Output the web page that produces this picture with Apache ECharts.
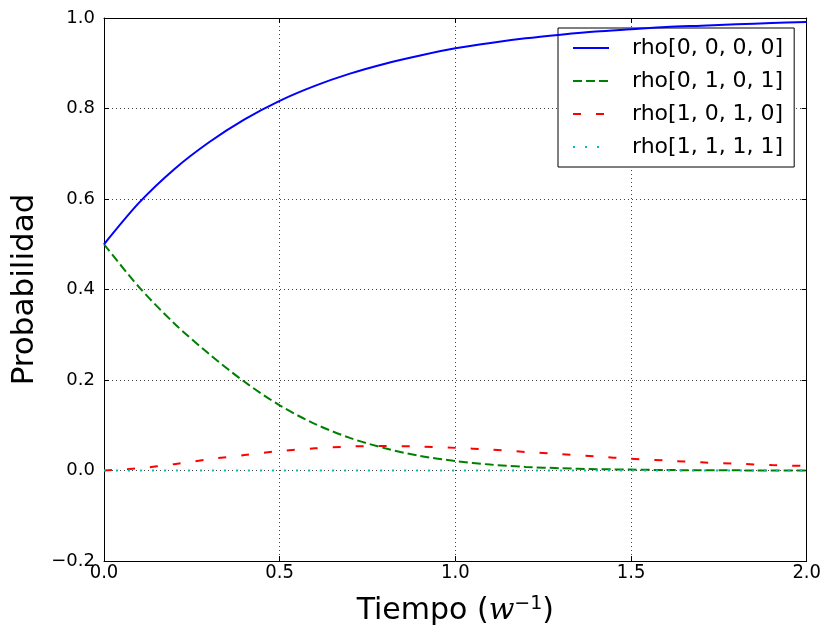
<!DOCTYPE html>
<html>
<head>
<meta charset="utf-8">
<script src="https://cdn.jsdelivr.net/npm/echarts@6/dist/echarts.min.js"></script>
<style>
html,body{margin:0;padding:0;background:#fff;}
#chart{width:824px;height:632px;}
</style>
</head>
<body>
<div id="chart"></div>
<script>
// Time samples (w^-1)
const tiempo = [0.0,0.1,0.2,0.3,0.4,0.5,0.6,0.7,0.8,0.9,1.0,1.1,1.2,1.3,1.4,1.5,1.6,1.7,1.8,1.9,2.0];
// Series values
const rho0000 = [0.500,0.592,0.666,0.726,0.776,0.817,0.850,0.877,0.899,0.917,0.933,0.945,0.955,0.963,0.970,0.975,0.980,0.983,0.986,0.989,0.991];
const rho0101 = [0.500,0.405,0.325,0.257,0.196,0.144,0.103,0.072,0.049,0.032,0.021,0.013,0.008,0.005,0.003,0.002,0.001,0.0006,0.0003,0.0002,0.0001];
const rho1010 = [0.000,0.005,0.014,0.025,0.034,0.043,0.049,0.053,0.054,0.053,0.050,0.046,0.041,0.036,0.031,0.026,0.022,0.018,0.015,0.012,0.010];
const rho1111 = [0,0,0,0,0,0,0,0,0,0,0,0,0,0,0,0,0,0,0,0,0];
const seriesNames = ['rho[0, 0, 0, 0]','rho[0, 1, 0, 1]','rho[1, 0, 1, 0]','rho[1, 1, 1, 1]'];
const xTicks = [0.0,0.5,1.0,1.5,2.0];
const yTicks = [-0.2,0.0,0.2,0.4,0.6,0.8,1.0];

const pair = arr => tiempo.map((t,i)=>[t,arr[i]]);
const fmt = v => v.toFixed(1).replace('-', '\u2212');
const FONT = 'DejaVu Sans';

const chart = echarts.init(document.getElementById('chart'), null, {renderer:'canvas'});
const grid = {left:104, right:16, top:18, bottom:71};

const option = {
  animation:false,
  backgroundColor:'#ffffff',
  grid: grid,
  legend: {
    orient:'vertical',
    left:558, top:28,
    backgroundColor:'#ffffff',
    borderColor:'#000000', borderWidth:1, borderRadius:0,
    padding:[8,11,8,14],
    itemWidth:36, itemHeight:14, itemGap:9,
    itemStyle:{color:'rgba(0,0,0,0)', borderColor:'rgba(0,0,0,0)', borderWidth:0, opacity:0},
    textStyle:{fontFamily:FONT, fontSize:22, color:'#000', lineHeight:24, padding:[0,0,0,18]},
    data: seriesNames
  },
  xAxis: [{
    type:'value', min:0, max:2, interval:0.5, position:'bottom',
    name:'Tiempo ({w|w}{s|\u22121})', nameLocation:'middle', nameGap:34,
    nameTextStyle:{fontFamily:FONT, fontSize:30, color:'#000',
      rich:{w:{fontFamily:'DejaVu Serif', fontStyle:'italic', fontSize:30, color:'#000'},
            s:{fontFamily:'DejaVu Sans', fontSize:19, color:'#000', verticalAlign:'top', padding:[0,0,14,0]}}},
    axisLine:{show:true, onZero:false, lineStyle:{color:'#000', width:1}},
    axisTick:{show:true, inside:true, length:5, lineStyle:{color:'#000'}},
    axisLabel:{fontFamily:'DejaVu Sans Condensed', fontSize:20, color:'#000', margin:2, formatter:fmt},
    splitLine:{show:true, lineStyle:{color:'#444', width:1, type:[1,3]}}
  },{
    type:'value', min:0, max:2, interval:0.5, position:'top',
    axisLine:{show:true, onZero:false, lineStyle:{color:'#000', width:1}},
    axisTick:{show:true, inside:true, length:5, lineStyle:{color:'#000'}},
    axisLabel:{show:false}, splitLine:{show:false}
  }],
  yAxis: [{
    type:'value', min:-0.2, max:1.0, interval:0.2, position:'left',
    name:'Probabilidad', nameLocation:'middle', nameGap:61,
    nameTextStyle:{fontFamily:FONT, fontSize:31, color:'#000'},
    axisLine:{show:true, onZero:false, lineStyle:{color:'#000', width:1}},
    axisTick:{show:true, inside:true, length:5, lineStyle:{color:'#000'}},
    axisLabel:{fontFamily:FONT, fontSize:18, color:'#000', margin:9, formatter:fmt},
    splitLine:{show:true, lineStyle:{color:'#444', width:1, type:[1,3]}}
  },{
    type:'value', min:-0.2, max:1.0, interval:0.2, position:'right',
    axisLine:{show:true, onZero:false, lineStyle:{color:'#000', width:1}},
    axisTick:{show:true, inside:true, length:5, lineStyle:{color:'#000'}},
    axisLabel:{show:false}, splitLine:{show:false}
  }],
  series: [
    {name:seriesNames[0], type:'line', data:pair(rho0000), smooth:0.3, symbol:'none', showSymbol:false,
     lineStyle:{color:'#0000ff', width:2, type:'solid'}, itemStyle:{color:'#0000ff'}, z:5},
    {name:seriesNames[1], type:'line', data:pair(rho0101), smooth:0.3, symbol:'none', showSymbol:false,
     lineStyle:{color:'#008000', width:2, type:[9,4]}, itemStyle:{color:'#008000'}, z:4},
    {name:seriesNames[2], type:'line', data:pair(rho1010), smooth:0.3, symbol:'none', showSymbol:false,
     lineStyle:{color:'#ff0000', width:2, type:[8,15]}, itemStyle:{color:'#ff0000'}, z:3},
    {name:seriesNames[3], type:'line', data:pair(rho1111), smooth:0.3, symbol:'none', showSymbol:false,
     lineStyle:{color:'#00bfbf', width:2, type:[2,10]}, itemStyle:{color:'#00bfbf'}, z:6}
  ]
};
chart.setOption(option);
</script>
</body>
</html>
